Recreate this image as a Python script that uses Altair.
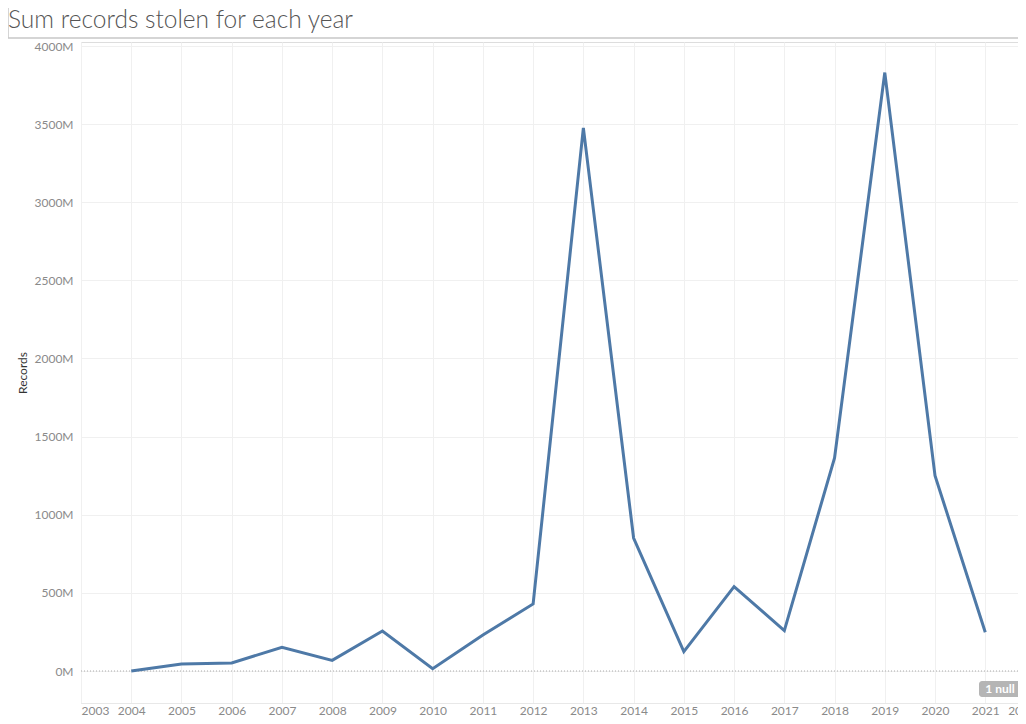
import altair as alt
import pandas as pd

years = [2004, 2005, 2006, 2007, 2008, 2009, 2010, 2011, 2012,
         2013, 2014, 2015, 2016, 2017, 2018, 2019, 2020, 2021]
records_m = [0, 45, 51, 152, 68, 256, 15, 230, 429,
             3476, 851, 124, 540, 258, 1364, 3830, 1250, 248]
x_ticks = list(range(2003, 2023))
y_ticks = [0, 500, 1000, 1500, 2000, 2500, 3000, 3500, 4000]
title_text = "Sum records stolen for each year"
null_text = "1 null"

df = pd.DataFrame({"Year": years, "Records": records_m})
one = pd.DataFrame({"a": [0]})

FONT = "Lato"
LINE = "#4e79a7"

x_scale = alt.Scale(domain=[2003, 2022], range=[0, 954.5], nice=False, zero=False)
y_scale = alt.Scale(domain=[-204.8, 4025.6], nice=False, zero=False)

line = alt.Chart(df).mark_line(color=LINE, strokeWidth=3, clip=True).encode(
    x=alt.X("Year:Q", scale=x_scale,
            axis=alt.Axis(values=x_ticks, format="d", title=None, grid=True,
                          gridColor="#f0f0f0", ticks=False, labelFlush=True,
                          labelPadding=2, labelColor="#8a8a8a", labelFontSize=12,
                          labelFont=FONT, domain=True, domainColor="#e8e8e8",
                          labelOverlap=False)),
    y=alt.Y("Records:Q", scale=y_scale,
            axis=alt.Axis(values=y_ticks, labelExpr="datum.value + 'M'",
                          title="Records", titleFont=FONT, titleFontSize=12,
                          titleFontWeight="normal", titleColor="#333333",
                          titleX=-59, titleY=330.5, titleAngle=-90,
                          titleBaseline="middle", titleAlign="center",
                          grid=True, gridColor="#f0f0f0", ticks=False,
                          domain=False, labelPadding=8, labelColor="#8a8a8a",
                          labelFontSize=12, labelFont=FONT)),
)

zero_rule = alt.Chart(pd.DataFrame({"z": [0]})).mark_rule(
    color="#aaaaaa", strokeDash=[1, 2], strokeWidth=1
).encode(y=alt.Y("z:Q", scale=y_scale))

title_box = alt.Chart(one).mark_rect(
    fill="white", stroke="#c8c8c8", strokeWidth=1.5
).encode(x=alt.value(-73), x2=alt.value(990), y=alt.value(-60), y2=alt.value(-4))

title_mark = alt.Chart(one).mark_text(
    text=title_text, align="left", baseline="alphabetic", font=FONT,
    fontSize=24.5, fontWeight=300, color="#555555"
).encode(x=alt.value(-73), y=alt.value(-14.5))

badge = alt.Chart(one).mark_rect(
    fill="#b5b5b5", cornerRadius=3
).encode(x=alt.value(898), x2=alt.value(960), y=alt.value(639), y2=alt.value(655))

badge_text = alt.Chart(one).mark_text(
    text=null_text, align="center", baseline="middle", font=FONT,
    fontSize=12, fontWeight="bold", color="white"
).encode(x=alt.value(919), y=alt.value(647))

chart = alt.layer(title_box, title_mark, zero_rule, line, badge, badge_text).properties(
    width=937, height=661,
    padding={"left": 73, "top": 34, "right": 0, "bottom": 13},
    autosize=alt.AutoSizeParams(type="none"),
).configure_view(strokeWidth=0).configure(background="white")

chart.save("out.html", embed_options={"renderer": "svg", "actions": False})
